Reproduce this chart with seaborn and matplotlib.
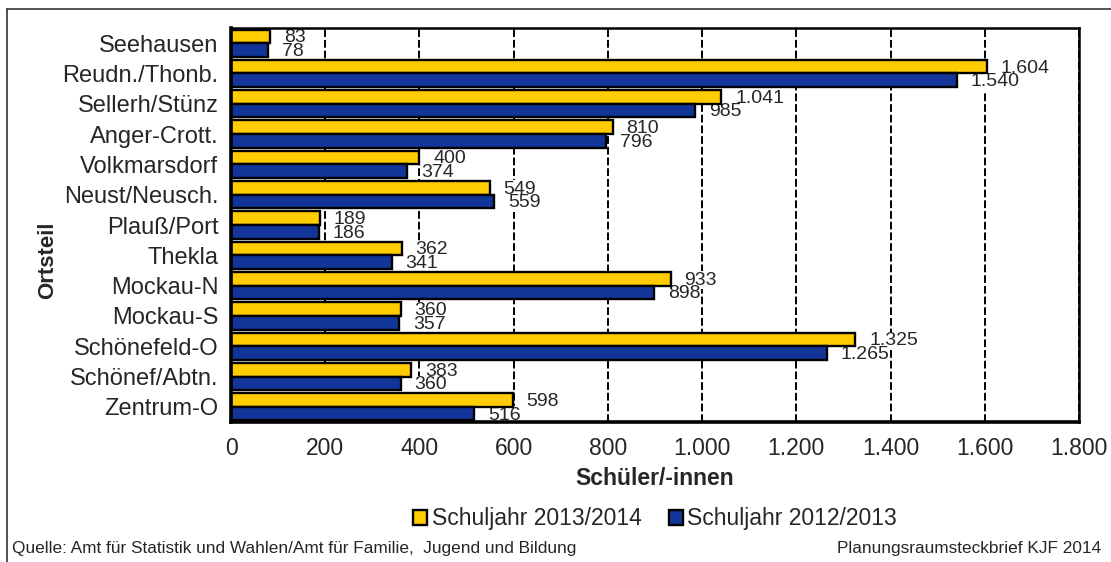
import matplotlib
matplotlib.use("Agg")
import matplotlib.pyplot as plt
import matplotlib.ticker as mticker
from matplotlib.lines import Line2D
import seaborn as sns
import pandas as pd

# Daten
ortsteile = ["Seehausen", "Reudn./Thonb.", "Sellerh/Stünz", "Anger-Crott.", "Volkmarsdorf",
             "Neust/Neusch.", "Plauß/Port", "Thekla", "Mockau-N", "Mockau-S",
             "Schönefeld-O", "Schönef/Abtn.", "Zentrum-O"]
sj_2013_14 = [83, 1604, 1041, 810, 400, 549, 189, 362, 933, 360, 1325, 383, 598]
sj_2012_13 = [78, 1540, 985, 796, 374, 559, 186, 341, 898, 357, 1265, 360, 516]
serien = ["Schuljahr 2013/2014", "Schuljahr 2012/2013"]
farben = ["#FFCC00", "#12359A"]
x_ticks = [0, 200, 400, 600, 800, 1000, 1200, 1400, 1600, 1800]

df = pd.DataFrame({
    "Ortsteil": ortsteile * 2,
    "Wert": sj_2013_14 + sj_2012_13,
    "Serie": [serien[0]] * len(ortsteile) + [serien[1]] * len(ortsteile),
})

sns.set_style("white")
plt.rcParams["font.family"] = ["Liberation Sans", "DejaVu Sans"]


def de_fmt(v, pos=None):
    return f"{v:,.0f}".replace(",", ".")


W, H = 1111, 562
fig = plt.figure(figsize=(W / 100, H / 100), dpi=100)
ax = fig.add_axes([231 / W, 1 - 422 / H, 848 / W, 394 / H])

sns.barplot(data=df, y="Ortsteil", x="Wert", hue="Serie", hue_order=serien,
            palette=farben, saturation=1, orient="h", width=0.9, edgecolor="black",
            linewidth=1.7, ax=ax, zorder=3)

ax.set_xlim(0, 1800)
ax.set_ylim(len(ortsteile) - 0.5, -0.5)
ax.set_xticks(x_ticks)
ax.xaxis.set_major_formatter(mticker.FuncFormatter(de_fmt))
ax.tick_params(axis="x", labelsize=16.5, length=5, width=2, direction="out", pad=6)

# Kategorien: Ticks an den Grenzen
ax.set_yticks(range(len(ortsteile)))
ax.set_yticklabels(ortsteile)
ax.set_yticks([i - 0.5 for i in range(len(ortsteile) + 1)], minor=True)
ax.tick_params(axis="y", which="major", length=0, labelsize=17, pad=9)
ax.tick_params(axis="y", which="minor", length=5, width=2, direction="out")

ax.grid(axis="x", color="black", linestyle=(0, (4, 1.5)), linewidth=1.4, zorder=1)
ax.grid(axis="y", visible=False)
ax.set_axisbelow(True)

for side in ["left", "bottom"]:
    ax.spines[side].set_linewidth(2.6)
    ax.spines[side].set_color("black")
    ax.spines[side].set_zorder(5)
for side in ["top", "right"]:
    ax.spines[side].set_linewidth(1.8)
    ax.spines[side].set_color("black")

ax.set_xlabel("Schüler/-innen", fontsize=16.5, fontweight="bold")
ax.xaxis.set_label_coords(0.5, -0.115)
ax.set_ylabel("Ortsteil", fontsize=16, fontweight="bold")
ax.yaxis.set_label_coords(-0.204, 0.41)

# Werte an den Balken
for cont in ax.containers:
    for bar in cont:
        w = bar.get_width()
        yc = bar.get_y() + bar.get_height() / 2
        ax.annotate(de_fmt(w), xy=(w, yc), xytext=(10, -1), textcoords="offset points",
                    ha="left", va="center", fontsize=14, zorder=2.5,
                    bbox=dict(boxstyle="square,pad=0.02", fc="white", ec="none"))

# Legende
handles, labels = ax.get_legend_handles_labels()
ax.get_legend().remove()
fig.legend(handles, labels, loc="center", bbox_to_anchor=(655 / W, 1 - 519 / H), ncol=2,
           frameon=False, fontsize=16.5, handlelength=0.6, handleheight=0.6,
           handletextpad=0.2, columnspacing=1.2)

# Fußnoten
fig.text(12 / W, 1 - 549 / H, "Quelle: Amt für Statistik und Wahlen/Amt für Familie,  Jugend und Bildung",
         fontsize=12.4, ha="left", va="center")
fig.text(1101 / W, 1 - 549 / H, "Planungsraumsteckbrief KJF 2014",
         fontsize=12.4, ha="right", va="center")

# Rahmen
fig.add_artist(Line2D([7 / W, 7 / W], [0, 1 - 9 / H], color="#333333", linewidth=1.2))
fig.add_artist(Line2D([7 / W, 1], [1 - 9 / H, 1 - 9 / H], color="#333333", linewidth=1.2))

fig.savefig("out.png", dpi=100)
